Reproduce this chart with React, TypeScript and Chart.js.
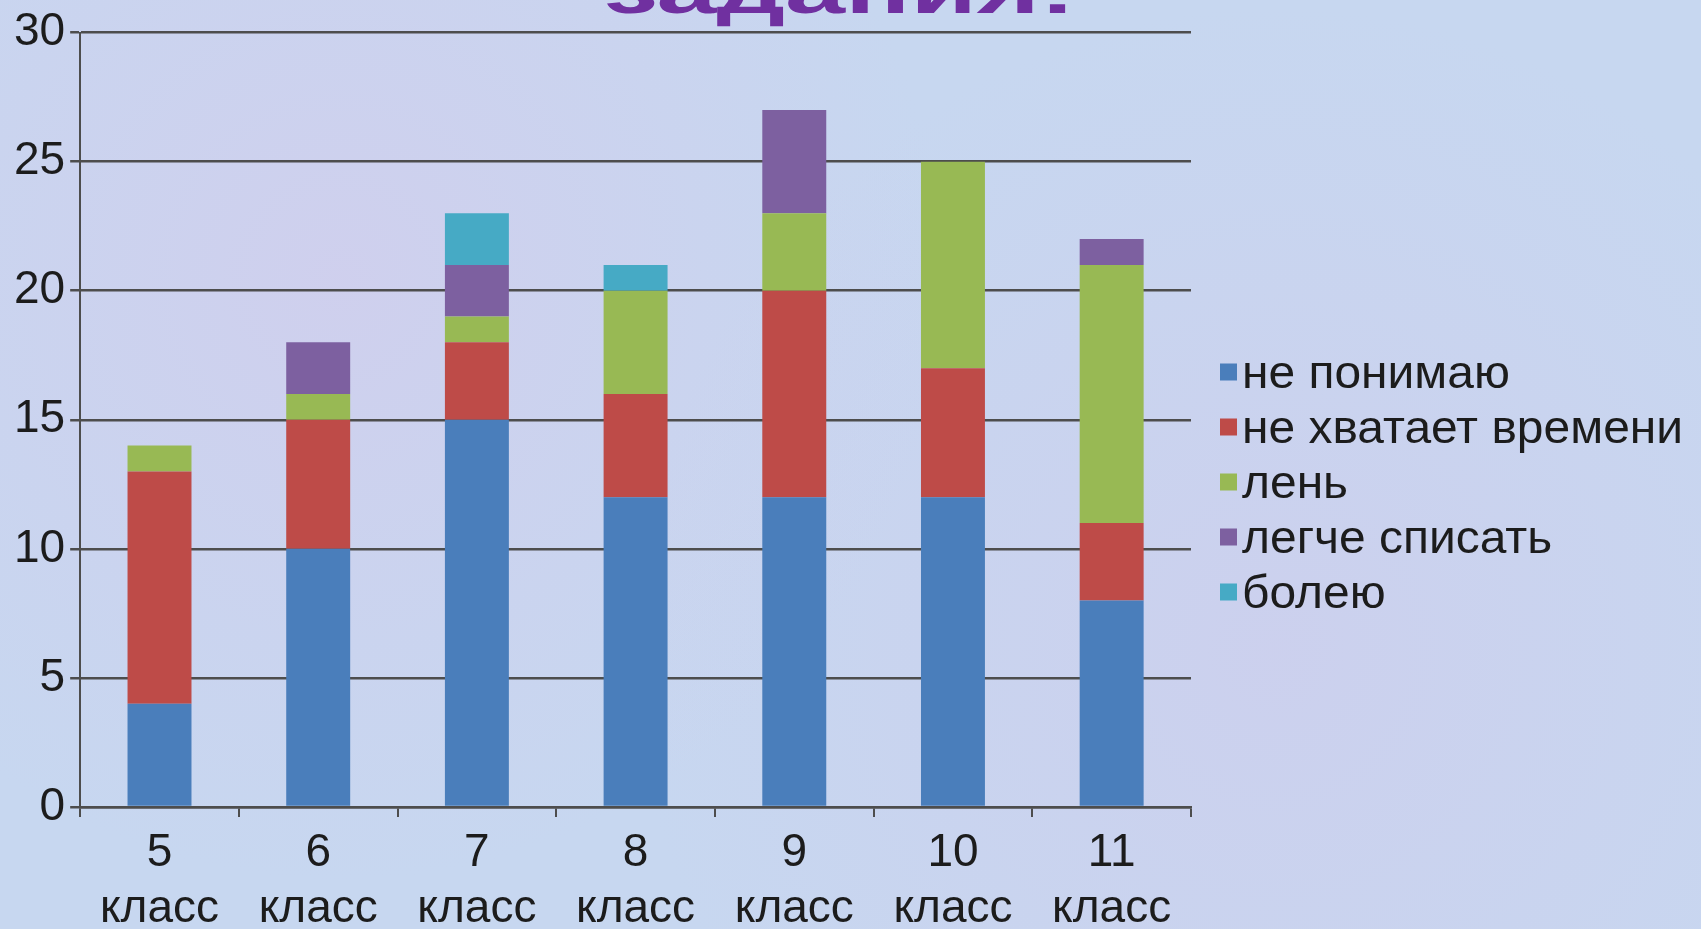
import React, { useEffect, useRef } from "react";
import { Chart, registerables } from "chart.js";

Chart.register(...registerables);

// ---- data ----
const categories: string[][] = [
  ["5", "класс"],
  ["6", "класс"],
  ["7", "класс"],
  ["8", "класс"],
  ["9", "класс"],
  ["10", "класс"],
  ["11", "класс"],
];
const seriesNames = ["не понимаю", "не хватает времени", "лень", "легче списать", "болею"];
const notUnderstand = [4, 10, 15, 12, 12, 12, 8];
const noTime = [9, 5, 3, 4, 8, 5, 3];
const lazy = [1, 1, 1, 4, 3, 8, 10];
const easierToCopy = [0, 2, 2, 0, 4, 0, 1];
const ill = [0, 0, 2, 1, 0, 0, 0];
const seriesColors = ["#4A7EBB", "#BE4B48", "#98B954", "#7D60A0", "#46AAC5"];
const yMin = 0;
const yMax = 30;
const yStep = 5;
const titleText = "задания!";

const FONT = "Arial, 'Liberation Sans', sans-serif";

const titlePlugin = {
  id: "cutTitle",
  afterDraw(chart: any) {
    const ctx = chart.ctx;
    ctx.save();
    ctx.translate(840, 12.5);
    ctx.scale(1.08, 0.66);
    ctx.font = `bold 100px ${FONT}`;
    ctx.fillStyle = "#7030A0";
    ctx.textAlign = "center";
    ctx.textBaseline = "alphabetic";
    ctx.fillText(titleText, 0, 0);
    ctx.restore();
  },
};

const sideLegendPlugin = {
  id: "sideLegend",
  afterDraw(chart: any) {
    const ctx = chart.ctx;
    const x0 = 1220;
    const y0 = 374;
    const rowGap = 55;
    const box = 17;
    ctx.save();
    ctx.font = `47px ${FONT}`;
    ctx.textBaseline = "middle";
    ctx.textAlign = "left";
    chart.data.datasets.forEach((ds: any, i: number) => {
      const cy = y0 + i * rowGap;
      ctx.fillStyle = ds.backgroundColor;
      ctx.fillRect(x0, cy - box / 2 - 2, box, box);
      ctx.fillStyle = "#1c1c1c";
      ctx.save();
      ctx.translate(x0 + box + 5, cy + 1);
      ctx.scale(1.02, 1);
      ctx.fillText(ds.label, 0, 0);
      ctx.restore();
    });
    ctx.restore();
  },
};

export default function App() {
  const canvasRef = useRef<HTMLCanvasElement | null>(null);

  useEffect(() => {
    const canvas = canvasRef.current;
    if (!canvas) return;
    const values = [notUnderstand, noTime, lazy, easierToCopy, ill];
    const chart = new Chart(canvas, {
      type: "bar",
      data: {
        labels: categories,
        datasets: values.map((v, i) => ({
          label: seriesNames[i],
          data: v,
          backgroundColor: seriesColors[i],
          borderWidth: 0,
          categoryPercentage: 1,
          barPercentage: 0.403,
        })),
      },
      options: {
        responsive: false,
        animation: false,
        devicePixelRatio: 1,
        layout: { padding: { left: 9, right: 510, top: 30, bottom: 0 } },
        plugins: {
          legend: { display: false },
          title: { display: false },
          tooltip: { enabled: false },
        },
        scales: {
          x: {
            stacked: true,
            afterFit: (scale: any) => {
              scale.height = 122;
            },
            grid: {
              offset: true,
              drawOnChartArea: false,
              drawTicks: true,
              tickLength: 10,
              color: "#4d4d4d",
              lineWidth: 2,
            },
            border: { display: true, color: "#4d4d4d", width: 2.5 },
            ticks: {
              color: "#1c1c1c",
              padding: 8,
              maxRotation: 0,
              autoSkip: false,
              font: { family: FONT, size: 46, lineHeight: 56 / 46 },
            },
          },
          y: {
            stacked: true,
            min: yMin,
            max: yMax,
            grid: {
              drawOnChartArea: true,
              drawTicks: true,
              tickLength: 10,
              color: "#4d4d4d",
              lineWidth: 2.5,
            },
            border: { display: true, color: "#4d4d4d", width: 2 },
            ticks: {
              stepSize: yStep,
              color: "#1c1c1c",
              padding: 5,
              font: { family: FONT, size: 46 },
            },
          },
        },
      },
      plugins: [titlePlugin, sideLegendPlugin],
    });
    return () => chart.destroy();
  }, []);

  return (
    <div
      style={{
        position: "fixed",
        left: 0,
        top: 0,
        width: 1701,
        height: 929,
        background:
          "radial-gradient(circle at 20% 30%, rgba(215,200,235,0.5), transparent 40%), radial-gradient(circle at 75% 70%, rgba(210,200,235,0.45), transparent 45%), #c7d7f0",
      }}
    >
      <canvas ref={canvasRef} width={1701} height={929} style={{ display: "block" }} />
    </div>
  );
}
